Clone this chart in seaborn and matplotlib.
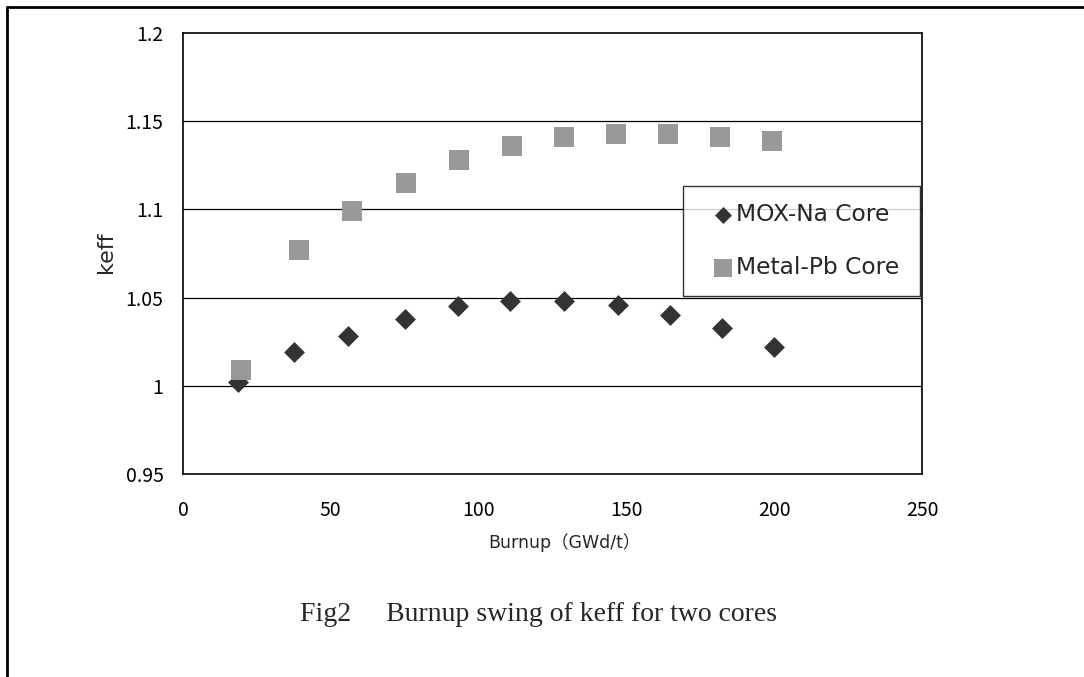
import matplotlib
matplotlib.use("Agg")
import matplotlib.pyplot as plt
import seaborn as sns
import pandas as pd
from matplotlib.lines import Line2D

# --- Data ---
mox_burnup = [18.6, 37.5, 55.8, 75.0, 93.0, 110.6, 128.9, 147.2, 164.7, 182.3, 200.0]
mox_keff = [1.002, 1.019, 1.028, 1.038, 1.045, 1.048, 1.048, 1.046, 1.040, 1.033, 1.022]
metal_burnup = [19.6, 39.2, 57.2, 75.4, 93.4, 111.3, 128.9, 146.5, 164.0, 181.7, 199.3]
metal_keff = [1.009, 1.077, 1.099, 1.115, 1.128, 1.136, 1.141, 1.143, 1.143, 1.141, 1.139]
series_names = ["MOX-Na Core", "Metal-Pb Core"]
x_ticks = [0, 50, 100, 150, 200, 250]
y_ticks = [0.95, 1.0, 1.05, 1.1, 1.15, 1.2]
y_tick_labels = ["0.95", "1", "1.05", "1.1", "1.15", "1.2"]

df_mox = pd.DataFrame({"burnup": mox_burnup, "keff": mox_keff})
df_metal = pd.DataFrame({"burnup": metal_burnup, "keff": metal_keff})

sns.set_style("white")
plt.rcParams["font.family"] = ["Noto Sans CJK JP", "DejaVu Sans"]
sans = ["DejaVu Sans", "Noto Sans CJK JP"]

fig = plt.figure(figsize=(10.84, 6.77), dpi=100)
ax = fig.add_axes([0.1688, 0.2999, 0.6818, 0.6514])

sns.scatterplot(data=df_mox, x="burnup", y="keff", ax=ax, marker="D",
                s=113, color="#333333", linewidth=0, label=series_names[0],
                zorder=3)
sns.scatterplot(data=df_metal, x="burnup", y="keff", ax=ax, marker="s",
                s=225, color="#999999", linewidth=0, label=series_names[1],
                zorder=3)

ax.set_xlim(0, 250)
ax.set_ylim(0.95, 1.2)
ax.set_xticks(x_ticks)
ax.set_yticks(y_ticks)
ax.set_yticklabels(y_tick_labels)
ax.tick_params(direction="in", length=6, width=1, labelsize=14, colors="black")
ax.tick_params(axis="y", pad=14)
ax.tick_params(axis="x", pad=19)
for y in y_ticks[1:-1]:
    ax.axhline(y, color="black", lw=0.9, zorder=1)
for side in ax.spines.values():
    side.set_color("black")
    side.set_linewidth(1.2)

ax.set_xlabel("")
ax.text(0.5156, -0.156, "Burnup（GWd/t）", transform=ax.transAxes,
        ha="center", va="center", fontsize=12.5, family=sans)
ax.set_ylabel("keff", fontsize=16, family=sans)
ax.yaxis.set_label_coords(-0.0907, 0.503)

leg = ax.legend(loc="upper left",
                bbox_to_anchor=(0.6766, 0.401, 0.3207, 0.252),
                mode="expand", prop={"family": sans, "size": 16.8},
                frameon=True, fancybox=False, handlelength=2.0,
                handletextpad=-0.45, labelspacing=1.31, borderpad=0.72,
                borderaxespad=0, edgecolor="black")
leg.get_frame().set_linewidth(1.0)
leg.legend_handles[0].set_sizes([75])
leg.legend_handles[1].set_sizes([150])

fig.text(0.4968, 0.093, "Fig2     Burnup swing of keff for two cores",
         ha="center", va="center", fontsize=20,
         family=["Liberation Serif", "DejaVu Serif"])

# outer frame of the page (top and left edges)
fig.add_artist(Line2D([0.0065, 1.0], [0.9897, 0.9897], color="black", lw=2,
                      transform=fig.transFigure))
fig.add_artist(Line2D([0.0065, 0.0065], [0.0, 0.9897], color="black", lw=2,
                      transform=fig.transFigure))

fig.savefig("out.png", dpi=100)
